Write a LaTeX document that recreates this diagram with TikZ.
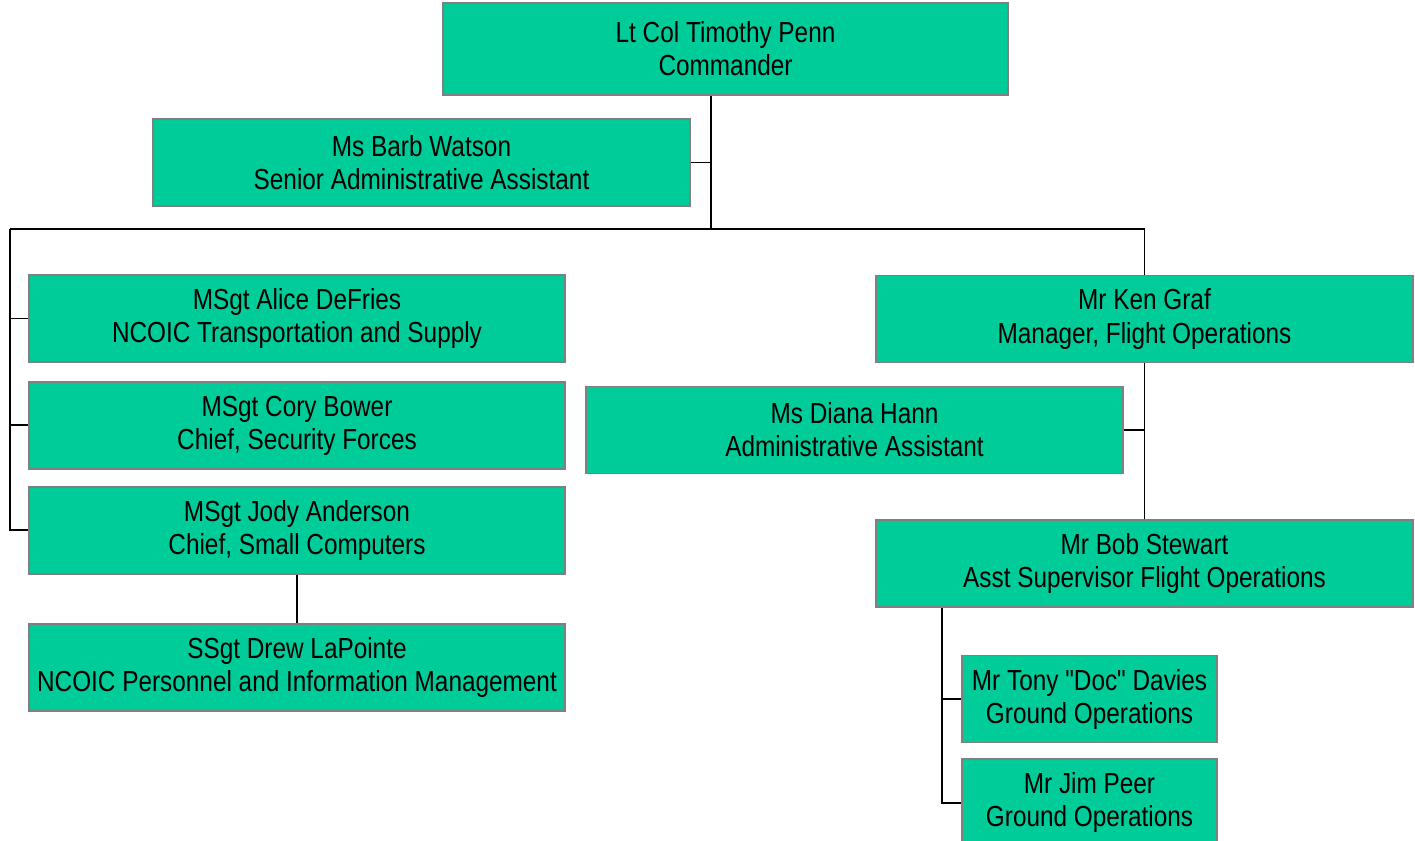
\documentclass[tikz,border=0pt]{standalone}
\usepackage{fontspec}
\setmainfont{Liberation Sans}[FakeStretch=0.84, Ligatures=TeXOff]
\usetikzlibrary{positioning}
\definecolor{boxgreen}{HTML}{00CC99}

\begin{document}
\begin{tikzpicture}[x=0.02cm,y=-0.02cm,
    box/.style={draw=gray, line width=1.1pt, fill=boxgreen, minimum width=10.74cm,
      minimum height=1.74cm, inner sep=0pt, align=center,
      font=\fontsize{16.5}{18.8}\selectfont},
    smallbox/.style={box, minimum width=5.1cm},
    link/.style={line width=1.1pt}]
    \useasboundingbox (0,0) rectangle (1415,840);

    %top
    \node[box, minimum width=11.3cm, minimum height=1.84cm] (cmd) at (725.5,49) {Lt Col Timothy Penn\\Commander};
    \node[box] (barb) at (421.5,162.5) {Ms Barb Watson\\Senior Administrative Assistant};

    %left column
    \node[box] (alice) at (297,318.5) {MSgt Alice DeFries\\NCOIC Transportation and Supply};
    \node[box] (cory) [below=0.36cm of alice] {MSgt Cory Bower\\Chief, Security Forces};
    \node[box] (jody) [below=0.32cm of cory] {MSgt Jody Anderson\\Chief, Small Computers};
    \node[box] (drew) [below=0.96cm of jody] {SSgt Drew LaPointe\\NCOIC Personnel and Information Management};

    %right column
    \node[box] (ken) at (1144.5,319) {Mr Ken Graf\\Manager, Flight Operations};
    \node[box] (diana) at (854.5,430) {Ms Diana Hann\\Administrative Assistant};
    \node[box] (bob) at (1144.5,563.5) {Mr Bob Stewart\\Asst Supervisor Flight Operations};
    \node[smallbox] (tony) at (1089.5,699) {Mr Tony "Doc" Davies\\Ground Operations};
    \node[smallbox] (jim) [below=0.3cm of tony] {Mr Jim Peer\\Ground Operations};

    %bus points
    \coordinate (hub) at (711,229);
    \coordinate (lbus) at (10,229);
    \coordinate (rbus) at (ken.north |- hub);
    \coordinate (bobbus) at (942,0);

    %commander links
    \draw[link] (cmd.south -| hub) -- (hub);
    \draw[link] (barb.east) -- (barb.east -| hub);
    \draw[link] (lbus) -- (rbus) -- (ken.north);

    %left links
    \draw[link] (lbus) -- (lbus |- jody.west) -- (jody.west);
    \draw[link] (alice.west) -- (alice.west -| lbus);
    \draw[link] (cory.west) -- (cory.west -| lbus);
    \draw[link] (jody.south) -- (drew.north);

    %right links
    \draw[link] (ken.south) -- (bob.north);
    \draw[link] (diana.east) -- (diana.east -| ken.south);
    \draw[link] (bob.south -| bobbus) -- (jim.west -| bobbus) -- (jim.west);
    \draw[link] (tony.west) -- (tony.west -| bobbus);
\end{tikzpicture}
\end{document}
